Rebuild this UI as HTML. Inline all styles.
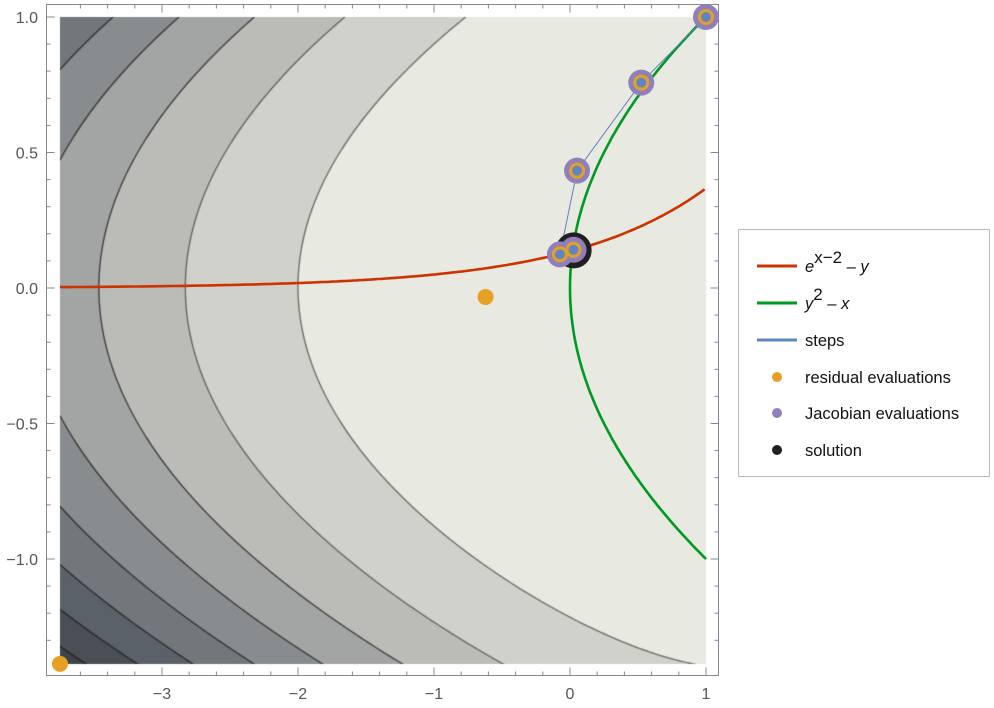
<!DOCTYPE html>
<html><head><meta charset="utf-8">
<style>
html,body{margin:0;padding:0;background:#fff;width:994px;height:708px;overflow:hidden;font-family:"Liberation Sans",sans-serif}
#wrap{position:relative;width:994px;height:708px}
canvas{position:absolute;left:0;top:0}
svg{position:absolute;left:0;top:0}
</style></head><body>
<div id="wrap">
<canvas id="cv" width="994" height="708"></canvas>
<svg id="sv" width="994" height="708"></svg>
</div>
<script>
// data
const xTicks=[-3,-2,-1,0,1];
const xTickLabels=["\u22123","\u22122","\u22121","0","1"];
const yTicks=[1,0.5,0,-0.5,-1];
const yTickLabels=["1.0","0.5","0.0","\u22120.5","\u22121.0"];
const contourLevels=[4,8,12,16,20,24,28,32];
const bandColors=["#e8e9e1","#d0d1cb","#bbbcb7","#a2a5a4","#888c8e","#71777a","#5b6168","#4a4f56","#3e434a"];
const stepX=[1,0.524,0.052,-0.074,0.026];
const stepY=[1,0.758,0.433,0.124,0.141];
const residX=[-0.621,-3.75];
const residY=[-0.033,-1.387];
const solX=[0.0193];
const solY=[0.1389];

const X0=570,XS=136,Y0=288,YS=271;
const PL=60,PR=706,PT=17,PB=664;
const sx=x=>X0+x*XS, sy=y=>Y0-y*YS;
const ix=p=>(p-X0)/XS, iy=p=>(Y0-p)/YS;
const f=(x,y)=>{const a=Math.exp(x-2)-y,b=y*y-x;return a*a+b*b;};

const cv=document.getElementById('cv');const ctx=cv.getContext('2d');
const W=PR-PL,H=PB-PT;
const img=ctx.createImageData(W,H);
const rgb=bandColors.map(c=>[parseInt(c.substr(1,2),16),parseInt(c.substr(3,2),16),parseInt(c.substr(5,2),16)]);
for(let j=0;j<H;j++)for(let i=0;i<W;i++){
 const v=f(ix(PL+i+0.5),iy(PT+j+0.5));let k=0;while(k<contourLevels.length&&v>contourLevels[k])k++;
 const o=(j*W+i)*4;img.data[o]=rgb[k][0];img.data[o+1]=rgb[k][1];img.data[o+2]=rgb[k][2];img.data[o+3]=255;}
ctx.putImageData(img,PL,PT);
ctx.save();ctx.beginPath();ctx.rect(PL,PT,W,H);ctx.clip();
const st=2;const nx=Math.ceil(W/st)+1,ny=Math.ceil(H/st)+1;
const G=[];for(let j=0;j<ny;j++){G[j]=[];for(let i=0;i<nx;i++)G[j][i]=f(ix(PL+i*st),iy(PT+j*st));}
contourLevels.forEach((L,li)=>{
 ctx.strokeStyle=li<2?'rgba(40,40,40,0.6)':'rgba(20,20,20,0.7)';ctx.lineWidth=1.4;ctx.beginPath();
 for(let j=0;j<ny-1;j++)for(let i=0;i<nx-1;i++){
  const v=[G[j][i],G[j][i+1],G[j+1][i+1],G[j+1][i]];
  const px=[PL+i*st,PL+(i+1)*st,PL+(i+1)*st,PL+i*st],py=[PT+j*st,PT+j*st,PT+(j+1)*st,PT+(j+1)*st];
  const pts=[];
  for(let e=0;e<4;e++){const a=e,b=(e+1)%4;if((v[a]>L)!==(v[b]>L)){const t=(L-v[a])/(v[b]-v[a]);pts.push([px[a]+t*(px[b]-px[a]),py[a]+t*(py[b]-py[a])]);}}
  for(let k=0;k+1<pts.length;k+=2){ctx.moveTo(pts[k][0],pts[k][1]);ctx.lineTo(pts[k+1][0],pts[k+1][1]);}
 }
 ctx.stroke();});
ctx.restore();

const NS='http://www.w3.org/2000/svg';const sv=document.getElementById('sv');
function mk(t,a,p){const e=document.createElementNS(NS,t);for(const k in a)e.setAttribute(k,a[k]);(p||sv).appendChild(e);return e;}
const fr=mk('rect',{x:46.5,y:4.5,width:672,height:671,fill:'none',stroke:'#888','stroke-width':1});


for(let v=-3.6;v<=1.001;v+=0.2){const p=sx(v);const maj=Math.abs(v-Math.round(v))<1e-6;const len=maj?8:4;
 mk('line',{x1:p,x2:p,y1:675.5,y2:675.5-len,stroke:'#888'});mk('line',{x1:p,x2:p,y1:4.5,y2:4.5+len,stroke:'#888'});}
for(let v=-1.3;v<=1.001;v+=0.1){const p=sy(v);const maj=Math.abs(v*2-Math.round(v*2))<1e-6;const len=maj?8:4;
 mk('line',{x1:46.5,x2:46.5+len,y1:p,y2:p,stroke:'#888'});mk('line',{x1:718.5,x2:718.5-len,y1:p,y2:p,stroke:'#888'});}
xTicks.forEach((v,i)=>{const t=mk('text',{x:sx(v),y:699,'text-anchor':'middle','font-size':16,fill:'#555'});t.textContent=xTickLabels[i];
 
 });
yTicks.forEach((v,i)=>{const t=mk('text',{x:38,y:sy(v)+6,'text-anchor':'end','font-size':16,fill:'#555'});t.textContent=yTickLabels[i];
 
 });
let d='';for(let x=-3.75;x<=1.0001;x+=0.02){const y=Math.exp(x-2);d+=(d?'L':'M')+sx(x).toFixed(1)+','+sy(y).toFixed(1);}
const rc=mk('path',{d:d,fill:'none',stroke:'#cc3300','stroke-width':2.6});


d='';for(let y=-1;y<=1.0001;y+=0.01){d+=(d?'L':'M')+sx(y*y).toFixed(1)+','+sy(y).toFixed(1);}
const gc=mk('path',{d:d,fill:'none',stroke:'#009922','stroke-width':2.6});


d='';stepX.forEach((x,i)=>{d+=(i?'L':'M')+sx(x)+','+sy(stepY[i]);});d+='L'+sx(solX[0])+','+sy(solY[0]);
const sl=mk('path',{d:d,fill:'none',stroke:'#5f7fbf','stroke-width':1});


solX.forEach((x,i)=>{const c=mk('circle',{cx:sx(x)+1,cy:sy(solY[i]),r:18,fill:'#231f20'});
 
 });
stepX.forEach((x,i)=>{const c=mk('circle',{cx:sx(x),cy:sy(stepY[i]),r:13,fill:'#8f7fbb'});
 
 });
stepX.forEach((x,i)=>{const c=mk('circle',{cx:sx(x),cy:sy(stepY[i]),r:8,fill:'#e5a025'});
 
 });
residX.forEach((x,i)=>{const c=mk('circle',{cx:sx(x),cy:sy(residY[i]),r:8,fill:'#e5a025'});
 
 });
stepX.forEach((x,i)=>{const c=mk('circle',{cx:sx(x),cy:sy(stepY[i]),r:5,fill:'#5f86c0'});
 
 });
const lg=mk('g',{});
mk('rect',{x:738.5,y:229.5,width:251,height:247,fill:'#fff',stroke:'#bbb'},lg);
const rows=[{c:'#cc3300',t:'line',l:'e<tspan baseline-shift="super" font-size="17" font-style="normal">x\u22122</tspan> \u2013 y',it:true},
 {c:'#009922',t:'line',l:'y<tspan baseline-shift="super" font-size="17" font-style="normal">2</tspan> \u2013 x',it:true},
 {c:'#5f86c0',t:'line',l:'steps'},{c:'#e5a025',t:'dot',l:'residual evaluations'},
 {c:'#8f7fbb',t:'dot',l:'Jacobian evaluations'},{c:'#231f20',t:'dot',l:'solution'}];
const rowY=[266,303,340,377,413,450];
rows.forEach((r,i)=>{const g=mk('g',{},lg);
 const y=rowY[i];
 if(r.t==='line')mk('line',{x1:757,x2:797,y1:y,y2:y,stroke:r.c,'stroke-width':3},g);
 else mk('circle',{cx:777,cy:y,r:5,fill:r.c},g);
 const t=mk('text',{x:805,y:y+6,'font-size':16.5,fill:'#111'},g);
 if(r.it)t.setAttribute('font-style','italic');
 t.innerHTML=r.l;});
</script>
</body></html>
